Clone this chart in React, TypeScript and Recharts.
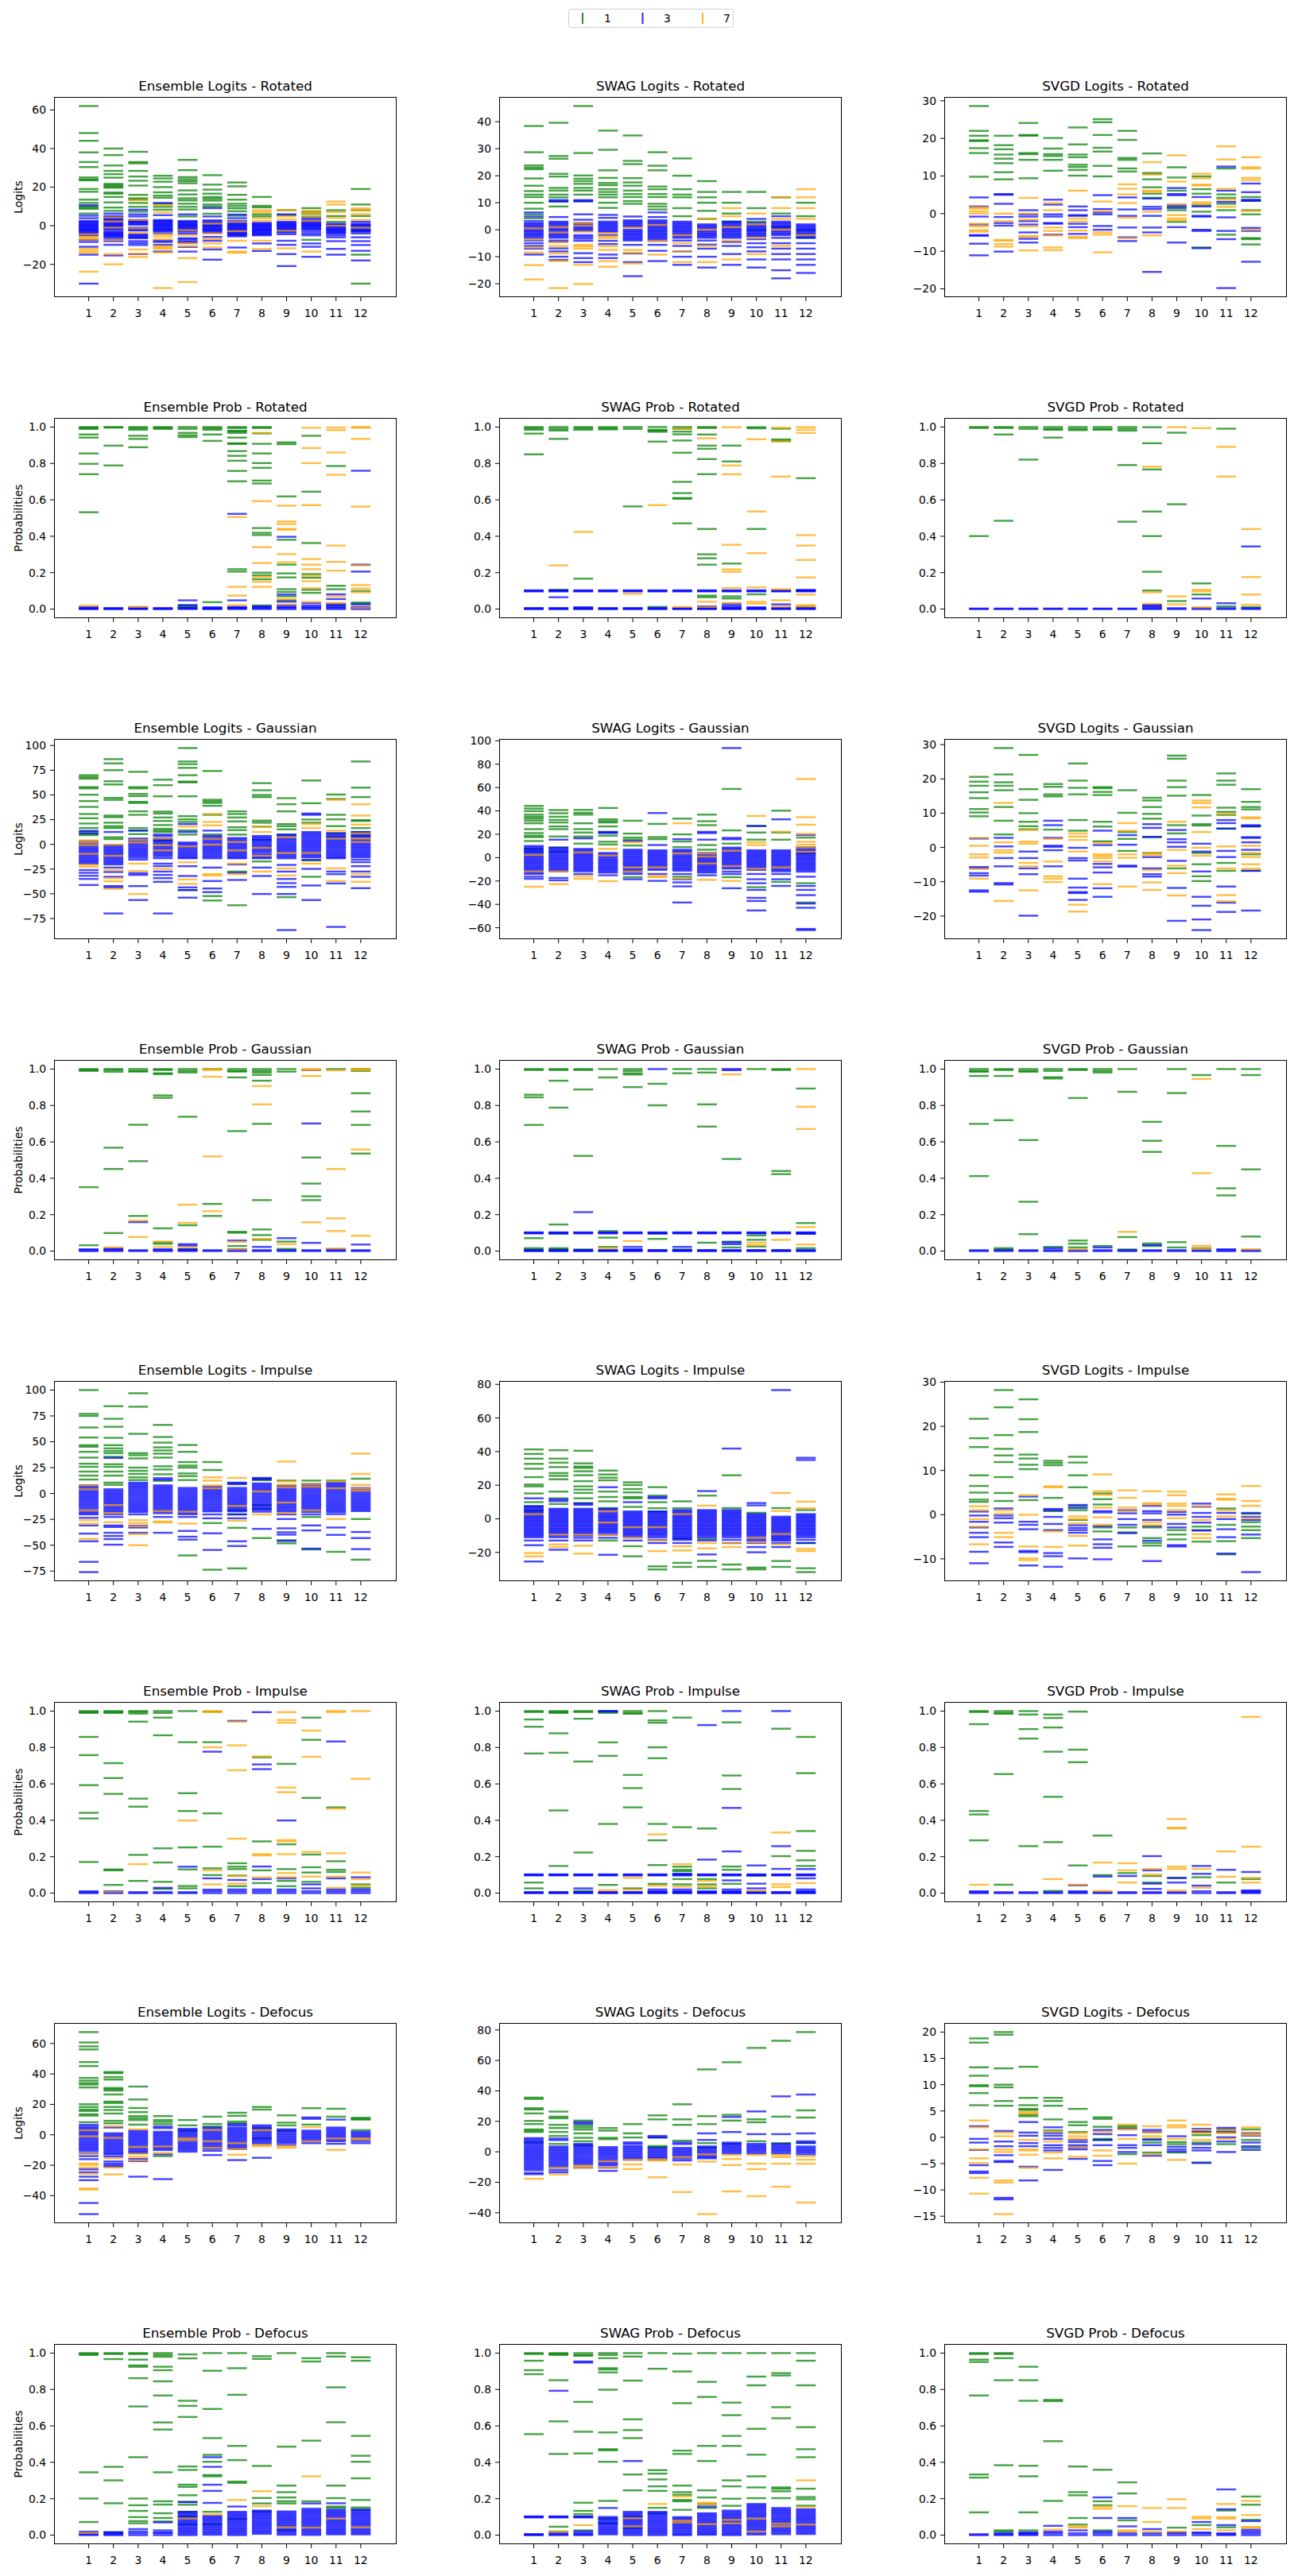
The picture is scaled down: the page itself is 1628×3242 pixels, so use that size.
import React from "react";
import { ScatterChart, Scatter, XAxis, YAxis } from "recharts";

const FONT = "'DejaVu Sans', sans-serif";
const GREEN = "#008000";
const BLUE = "#0000ff";
const ORANGE = "#ffa500";

const categories = [1, 2, 3, 4, 5, 6, 7, 8, 9, 10, 11, 12];
const legendLabels = ["1", "3", "7"];
const probTicks = [0, 0.2, 0.4, 0.6, 0.8, 1];

// each string holds the values plotted at one category (space separated)

// ---- Rotated ----
const ensLogitsRotG = ["62 48 44 38 33 30.4 25 24 23.5 19 17.6 13.5 11.8 10 9.3 8.7 6.3", "40 36.6 31.2 28.4 26.7 24.9 21.7 21 20.3 19.7 17.2 16.6 14.9 12.1 9.4 7.7", "38.3 33 32.3 28.4 25.5 23.3 20.8 16 14.2 13.5 11.8 9.8 7.3", "25.9 24.5 22.8 20 17.3 15.6 14.5 11.4 9.8 8.3", "34.1 28.8 25.2 24.1 23.1 22 18.3 16.2 14.2 13.1 11.4 9.8 8.4 4.8", "26.2 21.3 18.7 16.6 14.9 14 13 11 10 6.2", "22.4 20.4 16 13.5 11.4 10.2 9 7.5 5.2", "14.9 10.3 9.5 5.9 4.8", "8.1 5.5", "9.1 7.3 6.2 4.8 -7.3", "8 5 2", "19 11 8 5 -3 -15 -30"];
const ensLogitsRotB = ["10.6 5.2 3.9 2.5 2 1.5 1 0.5 0 -0.5 -1 -1.5 -2 -2.5 -3 -3.5 -4 -4.5 -5 -7.3 -8.4 -10.9 -15 -30", "6.3 5 4.5 4 3.5 3 2.5 2 1.5 1 0.5 0 -0.5 -1 -1.5 -2 -3 -3.5 -4 -4.5 -5 -5.5 -6 -7 -8 -9.9 -15.4", "8.3 5.9 4.8 3 2.5 2 1.5 1 0.5 -1 -1.5 -2 -2.5 -4.4 -5 -5.5 -6 -6.5 -8 -9 -10 -14.7", "11.8 5.5 3 2.5 2 1.5 1 0.5 0 -0.5 -1 -1.5 -2 -2.5 -3 -4 -7.8 -8.4 -9.9 -13.4", "5.9 2.5 2 1.5 1 0.5 0 -0.5 -1 -1.5 -2 -2.5 -3 -4 -6.5 -7 -8 -8.5 -9 -11 -13.4", "9.1 4.8 2.8 2.2 1.5 1 0.5 0 -0.5 -1 -1.5 -2 -2.5 -3 -3.7 -5.8 -7.8 -12.3 -17.6", "5.8 3.9 2.5 2 1.5 1 0.5 0 -0.5 -1 -1.5 -2 -2.5 -3 -3.5 -4 -4.5 -5 -5.5 -11.3", "1.5 1 0.5 0 -0.5 -1 -1.5 -2 -2.5 -3 -3.5 -4 -4.5 -5 -9.2 -13.1", "5.9 2 1.5 1 0.5 0 -0.5 -1 -1.5 -2 -2.5 -3 -3.5 -4.4 -7.8 -9.9 -14.7 -20.9", "3.9 3 2.5 2 1.5 1 0.5 0 -0.5 -1 -1.5 -2 -3 -4 -5 -9.2 -10.9 -16.1", "1 0.5 0 -0.5 -1 -1.5 -2 -2.5 -3 -3.5 -4 -5 -6 -8 -12 -15", "2 1 0.5 0 -0.5 -1 -1.5 -2 -2.5 -3 -4 -6 -8 -10 -13 -18"];
const ensLogitsRotO = ["-4.4 -5.8 -6.5 -7.1 -12 -13 -14 -23.8", "4.3 2.2 -1 -7.4 -14.7 -20", "13.2 3 -1.4 -3.7 -12.3 -14.5 -16.2", "10.7 6.9 -4.4 -5.5 -7 -10.6 -11.3 -12 -13.9 -32.3", "-2.3 -5 -9 -10.6 -16.8 -29.2", "1.1 -4 -6.9 -9.2 -11.3", "2 -2.8 -7.8 -13.4 -14", "8 7 3.9 2.5 -7.8 -12.1", "8.1 4.8 3.2 -2.6 -11.7", "7.7 6.5 4.8 2.5 -13.4", "12.5 11 7 4 0", "9 8 6 3 -1"];

const swagLogitsRotG = ["38.4 28.7 23.8 23 22.4 19 16.3 14.3 13 12.1 10 7.8 5.7 4.2", "39.6 27.3 26.3 20.7 19.7 15.5 14.5 13 12 10.4 8.6", "45.8 28.4 20.1 18.9 18 17 15.5 14.5 13 10.6", "36.7 29.6 22 19.2 17.3 16.5 15 14 13 12 10 8.1", "34.9 25.5 24.3 19.1 17.5 16.3 14.5 13.2 12.1 10.6 9.6", "28.7 23.7 22 16 15 13.2 12.1 9.6 8.6 7.5", "26.4 20 15 13 12 8 5", "18 14 12 10 7 4", "14 10 6 3", "14 8 3 0", "12 6 1", "10 5 0 -3"];
const swagLogitsRotB = ["6.4 4.9 3.2 2.5 2 1.5 1 0.5 0 -0.5 -1 -1.5 -2 -2.5 -3.1 -4 -5 -6 -7 -9.2", "11 10.5 4.7 3 2.5 2 1.5 1 0.5 0 -0.5 -1 -1.5 -2 -2.5 -3 -4 -4.5 -6.9 -8 -10 -11.2", "11 10.5 5.7 3.7 2.5 2 1.5 1 0.5 0 -0.5 -2 -2.6 -3.3 -4.1 -8.7 -10.5 -12", "5.5 4.4 3 2.5 2 1.5 1 0.5 0 -0.5 -1 -2 -4.1 -5.3 -9.2 -10.5", "4.9 3.5 3 2.5 2 1.5 1 0 -0.5 -1 -1.5 -2 -2.5 -3 -3.5 -4 -5.6 -8.8 -12 -17.2", "6.4 4.7 3.5 3 2.5 2 1.5 1 0.5 0 -0.5 -1 -1.5 -2 -2.5 -3 -3.5 -4.1 -5.6 -7.8 -11.6", "3 2.5 2 1.5 1 0.5 0 -0.5 -1 -1.5 -2 -2.5 -3 -4 -6 -8 -10 -13", "2 1.5 1 0.5 0 -0.5 -1 -1.5 -2 -2.5 -3 -4 -5.5 -7 -10 -14", "3 2.5 2 1.5 1 0.5 0 -0.5 -1 -1.5 -2 -2.5 -3 -4.5 -6 -9 -13", "4 2.5 2 1.5 1 0.5 0 -0.5 -1 -1.5 -2 -2.5 -3.5 -5 -6.5 -8 -11 -14", "5 3 2.5 2 1.5 1 0.5 0 -0.5 -1 -1.5 -2 -3 -5 -7 -9 -11 -15 -18", "2 1.5 1 0.5 0 -0.5 -1 -1.5 -2 -2.5 -3 -5 -7 -9 -11 -13 -16"];
const swagLogitsRotO = ["0.5 -3.6 -6.6 -8.4 -13.1 -18.4", "1 -1 -4.6 -6 -8.8 -11.6 -21.6", "2.5 1.5 -0.7 -5.6 -6.2 -7 -13 -20.1", "-1.2 -2.5 -3.1 -6.1 -7.5 -11.6 -13.7", "0.8 -7.5 -8.6 -12.5", "1.8 -4.1 -9.2", "-2 -5 -8 -12", "4 0 -6 -12", "8 5 1 -4 -11", "6 2 -3 -9", "12 8 4 0 -6", "15 12 8 4 -2"];

const svgdLogitsRotG = ["28.6 22 20.7 19.5 19.3 17.4 16.1 9.8", "20.7 18.2 17.1 15.7 14.6 13.4 11 9.1", "24.1 20.9 20.7 16.1 15.8 14.3 9.4", "20.1 17.3 15.8 15.3 14.3 11.4", "22.9 18.4 15.7 15 13 12.4 11.6 10.1", "25.1 24.3 20.9 17.5 16.5 12.7 9.9", "22 19.6 14.8 14.3 12 11.2", "16 10.8 10.5 9.1 7 5.3 4.2", "12.3 9.6 6.1 1.8 0.9 -2.2", "9.9 6.5 5.3 2.2 0.5 -9", "12 5.1 4.2 2.6 0.9 -5.6", "4.4 3.4 0.9 -0.2 -6.5 -6.8 -8.2"];
const svgdLogitsRotB = ["4.3 1.9 -0.8 -2.9 -5.7 -5.9 -8 -11.1", "5.2 5 2.6 -0.9 -2.5 -3.2 -10.1", "0.9 -0.2 -0.8 -2 -2.9 -5 -6.7 -7.7", "3.7 2.4 -0.2 -0.8 -2.5 -2.7 -5.6", "1.9 0.9 -0.4 -0.6 -2.7 -3.6 -5.4", "4.9 1.2 0.3 -0.2 -3.3 -4.3", "4.3 1.1 -0.6 -3.7 -6.3 -7.3", "4 1.8 1.2 -0.6 -3.7 -5 -15.5", "6.8 5.2 4.9 2.2 1.5 -3.6 -7.7", "4.4 1.9 -0.6 -0.8 -4.3 -4.6 -9.2", "12.5 6.1 3.1 -1 -4.6 -6.8 -19.8", "8 5.7 3.7 3.4 -3.8 -4.6 -12.8"];
const svgdLogitsRotO = ["1.7 1.3 0.6 0 -2.7 -3.4 -4.4 -4.8", "0 -2 -7 -7.2 -8.1 -8.8", "4.2 0 -1.6 -3.4 -6 -6.1 -9.8", "2.8 0.9 -3.7 -4.6 -5.8 -9 -9.7", "6.1 -1.3 -2.1 -4.5 -6.2 -6.5", "3.2 0.6 -5 -5.6 -10.3", "7.8 6.6 5.1 2.8 -1.1 -6.5", "13.7 10.5 6.1 5.8 0.5 -5.8", "15.5 8.5 2.5 -0.4 -1.3 -1.8", "10.6 9.4 7.7 7.5 3 2.6", "17.9 14.4 6.6 3.7 1.8", "15 12.3 12 9.5 8.9 0.7 -4.3"];

const ensProbRotG = ["1 0.995 0.99 0.959 0.942 0.855 0.798 0.741 0.532", "1 0.997 0.898 0.789", "1 0.993 0.985 0.952 0.935 0.889", "1 0.995 0.99", "1 0.99 0.968 0.955 0.945 0.02 0.012", "1 0.993 0.985 0.959 0.924 0.038", "1 0.995 0.98 0.976 0.968 0.942 0.911 0.907 0.868 0.842 0.815 0.759 0.702 0.219 0.206", "1 0.995 0.965 0.908 0.855 0.802 0.776 0.706 0.69 0.445 0.419 0.407 0.2 0.186 0.164 0.02", "0.916 0.906 0.619 0.381 0.244 0.196 0.174 0.109 0.094 0.07 0.048", "0.952 0.645 0.363 0.192 0.172 0.106 0.089", "0.786 0.128 0.109 0.022", "0.099 0.036 0.03"];
const ensProbRotB = ["0.01 0.006 0.002 0", "0.006 0.002 0", "0.01 0.006 0.002 0", "0.006 0.002 0", "0.048 0.022 0.008 0.004 0", "0.01 0.006 0.002 0", "0.523 0.048 0.012 0.008 0.004 0", "0.015 0.01 0.005 0", "0.397 0.08 0.041 0.02 0.012 0.006 0", "0.033 0.02 0.012 0.006 0", "0.081 0.055 0.03 0.02 0.012 0.006 0", "0.76 0.244 0.206 0.026 0.012 0.006 0"];
const ensProbRotO = ["0.019", "", "0.012", "", "", "", "0.506 0.122 0.074 0.022", "0.968 0.593 0.34 0.253 0.177 0.15 0.122", "0.568 0.481 0.467 0.44 0.436 0.302 0.257 0.055 0.026", "0.996 0.885 0.802 0.571 0.275 0.244 0.219 0.183 0.153 0.115 0.039", "0.997 0.983 0.86 0.738 0.349 0.259 0.211 0.07 0.033", "1 0.996 0.935 0.563 0.24 0.132 0.113 0.092 0.007"];

const swagProbRotG = ["1 0.993 0.985 0.964 0.85", "1 0.99 0.981 0.935 0.106", "1 0.993 0.985 0.167", "1 0.993 0.987", "1 0.99 0.564", "1 0.985 0.98 0.974 0.92 0.012", "1 0.99 0.975 0.96 0.926 0.859 0.699 0.637 0.61 0.606 0.471", "1 0.995 0.959 0.898 0.881 0.824 0.741 0.44 0.301 0.279 0.244 0.074 0.065", "0.898 0.811 0.25 0.07 0.058", "0.999 0.993 0.44 0.081", "0.991 0.932 0.924", "0.719 0.012"];
const swagProbRotB = ["0.103 0.1 0.097 0.006 0.002 0", "0.103 0.1 0.097 0.065 0.006 0.002 0", "0.103 0.1 0.097 0.01 0.006 0.002 0", "0.103 0.1 0.097 0.006 0.002 0", "0.103 0.1 0.097 0.006 0.002 0", "0.103 0.1 0.097 0.006 0.002 0", "0.103 0.1 0.097 0.006 0.002 0", "0.103 0.1 0.097 0.015 0.01 0.006 0.002 0", "0.103 0.1 0.097 0.03 0.02 0.01 0.006 0.002 0", "0.103 0.1 0.097 0.01 0.006 0.002 0", "0.103 0.1 0.097 0.026 0.006 0.002 0", "0.105 0.103 0.1 0.097 0.006 0.002 0"];
const swagProbRotO = ["", "0.24", "0.424", "", "0.084", "0.571", "0.99 0.012", "0.938 0.04 0.012", "0.999 0.789 0.741 0.353 0.218 0.205 0.116 0.033", "0.933 0.536 0.307 0.119 0.04 0.029", "0.996 0.92 0.728 0.109 0.048 0.015", "0.999 0.985 0.968 0.406 0.349 0.27 0.174 0.08 0.022 0.015"];

const svgdProbRotG = ["1 0.995 0.401", "1 0.995 0.959 0.485", "1 0.99 0.821", "1 0.99 0.985 0.942", "1 0.99 0.983", "1 0.99 0.985", "1 0.99 0.98 0.791 0.48", "0.999 0.911 0.767 0.536 0.401 0.205 0.102", "0.969 0.576 0.044", "0.141 0.08", "0.991 0.015", "0.01"];
const svgdProbRotB = ["0.003 0", "0.003 0", "0.003 0", "0.003 0", "0.003 0", "0.003 0", "0.003 0", "0.023 0.019 0.012 0.004 0", "0.005 0", "0.058 0.005 0", "0.032 0.005 0", "0.344 0.005 0"];
const svgdProbRotO = ["", "", "", "", "", "", "", "0.782 0.092 0.029", "0.999 0.07 0.026", "0.994 0.106 0.097 0.01", "0.891 0.728", "0.44 0.176 0.08 0.023"];

// ---- Gaussian ----
const ensLogitsGauG = ["69.9 68 66.4 57.9 56.6 50.2 43.8 37.9 30.7 26.4 21.1 16.5 13 10.7 9.3", "86.2 81.9 75 63.8 60.6 47 45 29.1 27.5 21.9 18.4 16.5 7.2 5.3", "73.4 57.9 56.6 51 48.8 43 41.9 33.4 29.9 16.5 14 10.4", "65.4 59.8 48.6 33.1 31.2 27.2 23.7 19.5 15.7 14 12.5 4", "97.4 83.8 81.1 77.4 69.9 63.5 62.7 48.6 28.5 25.3 22.7 14.1 9.9 -46.2", "74.2 45.1 43.5 41.9 39 29.9 10.1 -52.3 -56.8", "33.4 30.7 27.2 23.2 17.3 14.4 9.9 -27.5 -61.6", "61.9 54.7 49.9 47.8 24 21.9 17.9 4.5 -17.3", "46.7 40.6 33.4 20.5 18.4 15.2 9.9 -53.4", "64.6 41.6 25.1 21.9 -16.3 -32.8", "50.4 45.9 29.9 25.3 18.4 11.2 7.2", "83.8 57.4 47.8 24.5 23.7 16.5 12.5 8.5"];
const ensLogitsGauB = ["13.6 11.2 3.2 1.5 0 -1.5 -3 -4.5 -6 -7.5 -9 -10.5 -12 -13.5 -15 -16.5 -18 -19.5 -26 -28.8 -31.8 -35 -41.1", "12.5 -0.8 -2.3 -3.8 -5.3 -6.8 -8.3 -9.8 -11.3 -12.8 -14.3 -15.8 -17.3 -18.8 -20.3 -23.5 -28 -32.8 -42.2 -43.5 -69.9", "13.9 5.9 4.4 3 1.5 0 -1.5 -3 -4.5 -6 -7.5 -9 -10.5 -12 -13.5 -15.5 -29.1 -30.9 -42.2 -56.3", "9.9 8.4 6 4.5 3 1.5 0 -1.5 -3 -4.5 -6 -7.5 -9 -10.5 -12 -14 -19.5 -22 -27.5 -30.9 -34.2 -37.9 -69.9", "20.5 12.5 1.9 0.5 -1 -2.5 -4 -5.5 -7 -8.5 -10 -11.5 -13 -14.1 -22.1 -32 -43.5 -46.2 -53.9", "13.9 8.5 7 5.5 4 2.5 1 -0.5 -2 -3.5 -5 -6.5 -8 -9.5 -11 -12.5 -14.1 -23.5 -37.1 -44.6 -48.3", "6.4 5 3.5 2 0.5 -1 -2.5 -4 -5.5 -7 -8.5 -10 -11.5 -13 -14.1 -20.3 -28.8 -36", "8.5 7 5.5 4 2.5 1 -0.5 -2 -3.5 -5 -6.5 -8 -9.9 -11.5 -13 -14.1 -23.5 -32 -50.2", "9.9 8.5 7 5.5 4 2.5 1 -0.5 -2 -3.5 -5 -6.5 -8 -9.5 -11 -12.5 -14.1 -20.8 -27.5 -35 -39.2 -43 -50.2 -86.7", "31.2 29.9 12.5 11 9.5 8 6.5 5 3.5 2 0.5 -1 -2.5 -4 -5.5 -7 -8.5 -10 -11.5 -13 -15.5 -24.8 -41.6 -56.3", "11.2 9.5 8 6.5 5 3.5 2 0.5 -1 -2.5 -4 -5.5 -7 -8.5 -10 -11.5 -13 -14.1 -27.5 -30.1 -39.5 -83.5", "12.5 11 9.5 8 6.5 5 3.5 2 0.5 -1 -2.5 -4 -5.5 -7 -8.5 -10 -11.5 -13 -15.5 -18 -22.1 -27.5 -32.8 -44.3"];
const ensLogitsGauO = ["4 1.9 -0.8 -9.6 -20.8 -22.7", "-0.3 -11.5 -26.1 -34.2 -37.4 -45", "4.5 1.9 -19.5 -26.9 -50.2", "5.9 -0.8 -6.1 -24.8", "17.9 -2.1 -18.1 -35.5 -40", "30.7 22.7 19.2 5.6 -0.3 -30.1 -31.5", "2.4 -6.1 -19.5 -30.1", "17.9 12.5 -3.5 -11.5 -27.5", "7.2 -8.8 -24.3 -31.5", "20.5 16.5 -8.8 -19.5", "45.1 13.9 5.9 -24.3 -37.1", "40.6 29.1 20 11.2 5.9 2.4 -30.1 -37.9"];

const swagLogitsGauG = ["44.3 42 39.8 36.8 35 33.4 31.6 29.4 24.4 21 18.8 17.6 14.2 7.5 5.2", "40.7 38 35 32.3 30.1 26.7 24.4 18.1 8.6 5.2", "40.9 38.4 36.8 29.4 24.4 21.5 18.1 12", "42.5 32.8 31.2 30.1 26.7 21.7 18.8 13.6 11.3", "31.6 20.6 17.2 15.4 10.4 -16.7", "28.9 17.6 15.8", "33.4 19.9 13.8 9 -16.3", "36.8 31.2 27.8 10.8 6.8", "58.8 23.3 12 -16.7", "27.1 21.5 15.4 -25.3", "40.2 21.5 15.4 -20.8", "17.2 8.6 3.6 -21.9 -38.4"];
const swagLogitsGauB = ["10 8.8 7.6 6.4 5.2 4 2.8 1.6 0.4 -0.8 -2 -3.2 -4.4 -5.6 -6.8 -8 -9.2 -10.4 -11.6 -12.8 -14 -16.3 -18.1", "15.4 8.6 7.4 6.2 5 3.8 2.6 1.4 0.2 -1 -2.2 -3.4 -4.6 -5.8 -7 -8.2 -9.4 -10.6 -11.8 -17.4 -19.4", "16.5 7.5 6.3 5.1 3.9 2.7 1.5 0.3 -0.9 -2.1 -3.3 -4.5 -5.7 -6.9 -8.1 -9.3 -10.5 -11.7 -14", "22.1 21 4 2.8 1.6 0.4 -0.8 -2 -3.2 -4.4 -5.6 -6.8 -8 -9.2 -10.4 -11.6 -12.8 -15.1", "14.2 6.8 5.6 4.4 3.2 2 0.8 -0.4 -1.6 -2.8 -4 -5.2 -6.4 -7.6 -8.8 -10 -11.2 -12.4 -14 -18.5", "38.2 10.8 6.3 5.1 3.9 2.7 1.5 0.3 -0.9 -2.1 -3.3 -4.5 -5.7 -6.9 -8.1 -9.3 -10.5 -14 -19.9", "15.8 6.8 5.6 4.4 3.2 2 0.8 -0.4 -1.6 -2.8 -4 -5.2 -6.4 -7.6 -8.8 -10 -11.2 -14 -18.5 -21.2 -24.6 -38.4", "22.1 21 15.4 4 2.8 1.6 0.4 -0.8 -2 -3.2 -4.4 -5.6 -6.8 -8 -9.2 -10.4 -11.6 -12.8 -15.1", "93.8 16.9 15.7 8.6 7.4 6.2 5 3.8 2.6 1.4 0.2 -1 -2.2 -3.4 -4.6 -5.8 -7 -8.2 -9.4 -12 -14 -26.2", "27.1 6.3 5.1 3.9 2.7 1.5 0.3 -0.9 -2.1 -3.3 -4.5 -5.7 -6.9 -8.1 -9.3 -10.5 -14 -18.5 -21.9 -27.6 -34.4 -37.1 -45.2", "32.8 6.3 5.1 3.9 2.7 1.5 0.3 -0.9 -2.1 -3.3 -4.5 -5.7 -6.9 -8.1 -9.3 -10.5 -11.7 -14 -18.5 -24.2", "19.4 8.6 7.4 6.2 5 3.8 2.6 1.4 0.2 -1 -2.2 -3.4 -4.6 -5.8 -7 -8.2 -9.4 -10.6 -12 -16.3 -24.2 -27.6 -32.1 -39.3 -42.9 -61 -62"];
const swagLogitsGauO = ["2.3 -11.8 -24.9", "-11.8 -22.6", "4.5 -15.8 -18.1", "7.5 1.8 -20.1", "13.1 -8.4 -11.8", "-8.4 -15.8 -16.7", "29.4 3.6 -17.9", "3.6 1 -5 -19", "5.9 -7.2 -19.9", "35.7 13.1 10.8 -9.5", "22.1 -8.4", "67.3 34.6 28.2 20.3 13.6 11 8.6 5"];

const svgdLogitsGauG = ["20.6 19.2 18 16.1 14.4 11.2 10.2 9.1", "29 21.3 19 18 16.7 11.8 7.8 3.8", "27 17 13.9 10 7.5 6.2 5.3", "18.5 17.7 15.5 14.9 5.2", "24.5 19.5 17.4 15.5 8 4.9", "17.6 17.3 16.2 15.3 7.5 6.1 1.8", "16.7 10.1 4.5 2.5 -1", "14.5 13.7 11.8 9.8 8.4 3 -1.6", "26.8 25.9 19.5 17.6 15.1 6.5 4.1 -6.1", "15.3 9.3 6.8 6.4 -1.6 -4.9 -8.4 -9.8", "21.6 19.5 18.3 11.6 10.4 9.5 5.5 -4.5 -6.8", "17 13.3 11.8 11.1 6.1 -2 -6.8"];
const svgdLogitsGauB = ["2.6 -5.7 -6.1 -7.5 -8.2 -12.5 -12.9", "2.8 0.3 -3.1 -5.5 -10.4 -10.8", "-1.2 -3.1 -6.1 -7.8 -19.9", "7.8 6.5 2.8 0.5 0.2 -0.8 -5.5", "-0.1 -3.1 -3.8 -9.1 -11.7 -13 -13.3 -15.3", "4.9 0.7 -4.8 -5.8 -7.3 -11.9 -14.4", "3.6 0.8 -5.3 -5.6", "6.8 5.7 3.1 -2.8 -6.1 -7.8 -8.5", "5.1 2.4 1.5 0.2 -3.9 -11.8 -21.4", "1.1 -1.2 -7 -14.4 -17 -21 -24.1", "8 7.1 5.5 -1 -2.8 -11.4 -16.1 -18.8", "6.5 6.2 3 2.8 1.5 -0.7 -6.8 -18.4"];
const svgdLogitsGauO = ["2.8 0.5 -2 -2.9 -6.2 -9.1", "13 1.5 -0.8 -1.5 -15.6", "5.1 1.7 1.1 -4.5 -5.5 -12.5", "2.5 -4.1 -8.4 -9.1 -10.1", "4.1 3.2 2.2 -1.2 -16.7 -18.7", "1.3 -2 -2.5 -3.1 -4.1 -10.7", "7.1 4.9 -2 -3 -11.4", "-1.6 -2.2 -6.6 -10.2 -12.4", "7.5 -0.7 -5.3 -7.5 -14", "13.7 13 11.7 4.5 -0.1 -2.4", "9.8 0.3 -6.1 -13.9 -15.7", "8.8 8.5 0.5 -1.6 -2.8 -4.9 -6.2"];

const ensProbGauG = ["1 0.995 0.99 0.351 0.032", "1 0.995 0.985 0.568 0.451 0.099", "1 0.99 0.986 0.694 0.494 0.193", "1 0.995 0.977 0.972 0.855 0.842 0.125 0.048 0.04", "1 0.99 0.981 0.738 0.142 0.01", "1 0.259 0.193", "1 0.99 0.986 0.954 0.659 0.106 0.101 0.028", "1 0.99 0.981 0.968 0.936 0.699 0.28 0.119 0.088 0.062", "1 0.986 0.052 0.012", "0.514 0.371 0.301 0.28", "1", "1 0.99 0.867 0.767 0.693 0.536"];
const ensProbGauB = ["0.01 0.005 0", "0.015 0.01 0.005 0", "0.159 0.005 0", "0.01 0.005 0", "0.038 0.03 0.01 0.005 0", "0.005 0", "0.058 0.01 0.005 0", "0.023 0.005 0", "0.071 0.005 0", "0.994 0.701 0.045 0.005 0", "0.01 0.005 0", "0.036 0.005 0"];
const ensProbGauO = ["", "0.02", "0.168 0.077", "0.052 0.023", "0.255 0.155 0.02", "1 0.995 0.958 0.52 0.219", "0.051 0.009", "0.907 0.806 0.067", "0.038", "1 0.995 0.962 0.158", "0.993 0.451 0.18 0.11 0.014", "1 0.995 0.558 0.084"];

const swagProbGauG = ["1 0.995 0.859 0.845 0.693 0.071 0.016 0.009", "1 0.995 0.936 0.788 0.146 0.096 0.016 0.01", "1 0.995 0.888 0.523 0.009", "1 0.954 0.11 0.074 0.023", "1 0.99 0.977 0.97 0.901", "0.919 0.801 0.096 0.067", "1 0.977 0.009", "1 0.981 0.806 0.684 0.046", "0.506 0.052 0.02", "1 0.086 0.062 0.025", "1 0.995 0.44 0.423", "0.893 0.154 0.016"];
const swagProbGauB = ["0.103 0.1 0.097 0.006 0.002 0", "0.103 0.1 0.097 0.006 0.002 0", "0.214 0.103 0.1 0.097 0.006 0.002 0", "0.103 0.1 0.097 0.006 0.002 0", "0.103 0.1 0.097 0.023 0.01 0.006 0.002 0", "1 0.103 0.1 0.097 0.006 0.002 0", "0.103 0.1 0.097 0.023 0.006 0.002 0", "0.103 0.1 0.097 0.006 0.002 0", "1 0.994 0.103 0.1 0.097 0.048 0.038 0.006 0.002 0", "0.103 0.1 0.097 0.006 0.002 0", "0.103 0.1 0.097 0.006 0.002 0", "0.103 0.1 0.097 0.095 0.006 0.002 0"];
const swagProbGauO = ["", "", "", "0.016", "0.055", "", "", "", "0.971", "0.046 0.032", "0.062", "1 0.793 0.671 0.132 0.036"];

const svgdProbGauG = ["1 0.99 0.985 0.962 0.699 0.412", "1 0.995 0.962 0.719 0.016 0.009", "1 0.99 0.985 0.61 0.271 0.093", "1 0.99 0.955 0.948 0.023", "1 0.995 0.841 0.058 0.041 0.02", "1 0.99 0.981 0.028", "1 0.875 0.077 0.009", "0.71 0.606 0.545 0.042 0.028", "1 0.868 0.049 0.02", "0.967 0.016", "1 0.578 0.345 0.306", "1 0.967 0.449 0.08"];
const svgdProbGauB = ["0.005 0", "0.005 0", "0.005 0", "0.016 0.005 0", "0.005 0", "0.02 0.005 0", "0.005 0", "0.033 0.005 0", "0.005 0", "0.005 0", "0.01 0.005 0", "0.005 0"];
const svgdProbGauO = ["", "", "", "", "0.009", "", "0.106", "", "", "0.946 0.428 0.029 0.013", "", "0.01"];

// ---- Impulse ----
const ensLogitsImpG = ["100 77 75 63.8 54.1 46.7 45.2 40.3 34.7 28.8 25.8 21.2 17.3 13.5", "84.4 72.2 64.5 53.8 46.7 43.6 41.1 39 35.5 28.3 25.8 21.2 17.3 10.5 8.4", "96.9 83.9 57.7 39 37 33.9 25 21.9 18.9 15.6 13", "66.3 54.6 49.2 44.6 41.6 38.5 34.7 26.3 23.2 18.6 12.2", "46.9 40.3 30.4 27 25 19.4 16.8 13 -59.9", "30.4 22.7 -28.6 -73.7", "9.9 -16.3 -20.2 -33.2 -72.4", "14.3 13 -11.2 -15.1 -43.1", "12.5 -45.2 -48.2", "12.5 -22.7 -54.1", "12.5 -56.4", "14.3 -24.7 -64"];
const ensLogitsImpB = ["8 6.5 5 3.5 2 0.5 -1 -2.5 -4 -5.5 -7 -8.5 -10 -11.5 -13 -14.5 -16 -17.5 -19 -20.2 -23.5 -30.9 -38.8 -46.2 -66.1 -76", "34.4 4.1 2.6 1.1 -0.4 -1.9 -3.4 -4.9 -6.4 -7.9 -9.4 -10.9 -12.4 -13.9 -15.4 -16.9 -18.4 -20.2 -22.7 -30.9 -32.4 -38 -41.1 -44.1 -49.5", "10.5 9 7.5 6 4.5 3 1.5 0 -1.5 -3 -4.5 -6 -7.5 -9 -10.5 -12 -13.5 -15 -16.5 -18 -20.2 -31.1 -32.9 -38", "14.8 13.3 7.9 6.4 4.9 3.4 1.9 0.4 -1.1 -2.6 -4.1 -5.6 -7.1 -8.6 -10.1 -11.6 -13.1 -14.6 -16.1 -17.6 -19.1 -22.7 -38", "5.4 3.9 2.4 0.9 -0.6 -2.1 -3.6 -5.1 -6.6 -8.1 -9.6 -11.1 -12.6 -14.1 -15.6 -17.1 -18.6 -20.1 -22.7 -36.2 -41.8 -44.6", "6.6 5.1 3.6 2.1 0.6 -0.9 -2.4 -3.9 -5.4 -6.9 -8.4 -9.9 -11.4 -12.9 -14.4 -15.9 -17.3 -20.2 -24 -38.5 -54.6", "10.5 9 5.4 3.9 2.4 0.9 -0.6 -2.1 -3.6 -5.1 -6.6 -8.1 -9.6 -11.1 -12.6 -14.1 -15.6 -17.3 -20.2 -24 -46.2 -50.8", "15.1 13.6 9.7 8.2 6.7 5.2 3.7 2.2 0.7 -0.8 -2.3 -3.8 -5.3 -6.8 -8.3 -9.8 -11.3 -12.8 -14.3 -15.8 -17.6 -34.2", "7.9 6.4 4.9 3.4 1.9 0.4 -1.1 -2.6 -4.1 -5.6 -7.1 -8.6 -10.1 -11.6 -13.1 -14.6 -16.1 -17.6 -20.2 -24.7 -33.7 -37.5 -39.8 -45.9", "9.2 7.7 6.2 4.7 3.2 1.7 0.2 -1.3 -2.8 -4.3 -5.8 -7.3 -8.8 -10.3 -11.8 -13.3 -14.8 -16.3 -17.8 -20.2 -30.9 -35.7 -53.3", "10.5 9 7.5 6 4.5 3 1.5 0 -1.5 -3 -4.5 -6 -7.5 -9 -10.5 -12 -13.5 -15 -16.5 -18 -20 -32.9 -40", "5.4 3.9 2.4 0.9 -0.6 -2.1 -3.6 -5.1 -6.6 -8.1 -9.6 -11.1 -12.6 -14.1 -15.6 -17 -37.2 -43.1 -53.8"];
const ensLogitsImpO = ["7.9 4.1 -16.3 -25.8 -29.1 -43.9", "-11.2 -18.9 -27.8", "-25.8 -28.6 -31.6 -39.3 -50", "-17.1 -27 -28", "-17.6 -29.1", "15.6 12.5 7.9 5", "15.1 -12 -26.3", "2 -20.2", "30.9 11.7 8.4 5.9 -8.7 -18.9", "9.2 6.6 -16.3", "11.7 5 -24.7", "38.5 18.9 8.4 5 2.8"];

const swagLogitsImpG = ["41.3 38.6 35.8 32.7 29.8 24.8 20.4 19.3 15.1 9.9 7.5 4.7", "40.8 35.8 33.4 30.8 27.2 25.6 23.5 16.2 12.2 8.8", "40.5 33 31.1 30.3 28.3 25.9 22.4 19.3 17.4 15.4 12.2 9.4", "28.7 26.4 24.5 22.9 16.2 13 10.4 6.4 -12.9", "21.7 20.1 17.7 15.7 13 12.2 7.1 -16.3 -22.3", "18.8 13.8 9.9 6.3 4.4 -28.3 -30.1", "10.4 6.3 -11.8 -26.2 -28.6", "13.8 -12 -25 -28.6", "25.9 6.4 -27.2 -30.1", "3.6 -29 -30.1", "6.4 -25.1 -28.6", "5.2 -14.4 -29.4 -31.7"];
const swagLogitsImpB = ["12.2 7.5 6.7 5.9 5.1 4.3 3.5 2.7 1.9 1.1 0.3 -0.5 -1.3 -2.1 -2.9 -3.7 -4.5 -5.3 -6.1 -6.9 -7.7 -8.5 -9.3 -10.1 -11 -12.9 -15.7 -25.4", "11.5 10.5 6 5.2 4.4 3.6 2.8 2 1.2 0.4 -0.4 -1.2 -2 -2.8 -3.6 -4.4 -5.2 -6 -6.8 -7.6 -8.4 -9.2 -10 -11 -12.9 -18.4", "9.1 8.3 6 5.2 4.4 3.6 2.8 2 1.2 0.4 -0.4 -1.2 -2 -2.8 -3.6 -4.4 -5.2 -6 -6.8 -7.6 -8.4 -9.2 -10 -11.3 -12.9", "18.8 6 5.2 4.4 3.6 2.8 2 1.2 0.4 -0.4 -1.2 -2 -2.8 -3.6 -4.4 -5.2 -6 -6.8 -7.6 -8.4 -9.5 -11.3 -21.4", "9.9 4.4 3.6 2.8 2 1.2 0.4 -0.4 -1.2 -2 -2.8 -3.6 -4.4 -5.2 -6 -6.8 -7.6 -8.4 -9.2 -10 -11 -12.9", "13 12.2 4.4 3.6 2.8 2 1.2 0.4 -0.4 -1.2 -2 -2.8 -3.6 -4.4 -5.2 -6 -6.8 -7.6 -8.4 -9.2 -10 -11 -12.5 -14.4", "5.2 4.4 3.6 2.8 2 1.2 0.4 -0.4 -1.2 -2 -2.8 -3.6 -4.4 -5.2 -6 -6.8 -7.6 -8.4 -9.2 -10 -10.8 -11.6 -12.5 -14.4", "16.5 5.2 4.4 3.6 2.8 2 1.2 0.4 -0.4 -1.2 -2 -2.8 -3.6 -4.4 -5.2 -6 -6.8 -7.6 -8.4 -9.2 -10 -11 -12.9 -21.2", "41.8 5.2 4.4 3.6 2.8 2 1.2 0.4 -0.4 -1.2 -2 -2.8 -3.6 -4.4 -5.2 -6 -6.8 -7.6 -8.4 -9.2 -10 -11 -12.5 -14.4", "9.4 8 2.8 2 1.2 0.4 -0.4 -1.2 -2 -2.8 -3.6 -4.4 -5.2 -6 -6.8 -7.6 -8.4 -9.2 -10 -11 -12 -13 -14.4 -16.8 -19.9", "76.6 1.3 0.5 -0.3 -1.1 -1.9 -2.7 -3.5 -4.3 -5.1 -5.9 -6.7 -7.5 -8.3 -9.1 -9.9 -10.7 -11.5 -12.3 -13 -14.4 -16.8", "36.3 35 2.8 2 1.2 0.4 -0.4 -1.2 -2 -2.8 -3.6 -4.4 -5.2 -6 -6.8 -7.6 -8.4 -9.2 -10 -11 -12.5 -14.4"];
const swagLogitsImpO = ["2.8 -20.4 -22.3", "-9.4 -15.2 -16.8", "-9.4 -16 -20.7", "4.4 -2.2 -9.7", "-5 -11.3", "-5 -12.9 -19.2", "2.8 -16.3 -18.8", "7.8 -14.4 -17.6", "-14.4 -16.8", "-11.3 -14", "15.4 4.7 -9 -15.2", "10.2 6.3 -17.9 -19.2"];

const svgdLogitsImpG = ["21.7 17.3 15.3 8.9 6.5 5 3.4 2.9", "28.2 24.3 18 14.9 13.4 11.9 8.5 4.9 3.1", "26.1 21.6 18.7 13.6 12.7 11.3 10.3 3.3", "12.2 11.7 11.2 3.8 0.8", "13.1 11.8 8.9 6.2 1.9 1 -1.2", "4.8 3.5 2.3 -2.9 -3.8", "-2.9 -4 -7.2", "-2.9 -5.3 -6.4 -7", "-3.5 -4.5 -5.6", "-2.7 -3.5 -6.1", "1.4 -2.3 -6 -9", "0.2 -1.7 -2.7 -3.5 -5.3"];
const svgdLogitsImpB = ["0.7 -0.2 -1.6 -2.9 -4.1 -5.1 -8.4 -11", "1.4 -0.2 -0.8 -1.8 -6.3 -7.3", "4.1 -1.6 -2.3 -3.3 -8.2 -8.5 -11.5", "1.3 1 -0.5 -2.1 -3.5 -8.7 -9.4 -11.8", "2.2 1.5 -2.4 -3 -3.5 -4.1 -9.9", "0.8 0.5 -2.6 -5.6 -6.7 -7.5 -10.1", "1 0.3 -1 -2.3 -4.2", "2 0.8 0.3 -1.2 -2.6 -5.9 -10.5", "0.6 0 -2.1 -2.9 -6.9 -7.2", "2.5 1.8 0.4 -0.5 -1.8 -3.6", "0.4 -1 -3.3 -5.1 -8.8", "0.4 -0.5 -1.2 -4.5 -13"];
const svgdLogitsImpO = ["1.9 1 -1 -2.7 -6.7", "1 0.2 -4.1 -5.1", "4.4 0 -7.2 -9.9 -10.3", "6.4 6.2 -3.8 -7.3", "-0.4 -1 -2 -4.8 -7", "9.1 5.3 4.5 1.6 -0.6 -2.3", "5.5 3.8 1.6 0.8", "5.3 2.6 2.3 -1.7 -2.4", "5.2 4.4 2.5 2 1 -0.8", "1.9 -1.2 -4.4 -5.3", "4.6 3.6 3.4 1 -0.4", "6.5 3.1 2 -0.8"];

const ensProbImpG = ["1 0.995 0.99 0.858 0.758 0.593 0.441 0.41 0.171", "1 0.995 0.99 0.714 0.632 0.545 0.13 0.125 0.045", "1 0.995 0.986 0.942 0.519 0.475 0.21 0.067", "1 0.99 0.964 0.867 0.246 0.168 0.062 0.023", "1 0.829 0.549 0.451 0.251 0.13 0.039 0.026", "0.997 0.829 0.438 0.255 0.136 0.099", "0.164 0.145 0.132 0.096 0.038", "0.746 0.284 0.125 0.055", "0.71 0.268 0.132 0.067 0.038", "0.964 0.842 0.523 0.212 0.142 0.113 0.062", "0.471 0.175 0.128 0.116", "0.048 0.03"];
const ensProbImpB = ["0.01 0.005 0", "0.01 0.005 0", "0.005 0", "0.029 0.005 0", "0.145 0.005 0", "0.777 0.081 0.019 0.01 0", "0.946 0.072 0.02 0.01 0", "0.994 0.707 0.681 0.146 0.077 0.02 0.01 0", "0.399 0.081 0.02 0.01 0", "0.048 0.026 0.01 0", "0.833 0.081 0.02 0.01 0", "0.087 0.02 0.01 0"];
const ensProbImpO = ["", "0.007", "0.159", "", "0.399", "1 0.995 0.801 0.125 0.048", "0.942 0.812 0.675 0.299 0.094 0.052", "0.751 0.214 0.207 0.087", "0.994 0.951 0.936 0.58 0.554 0.291 0.284 0.214 0.11 0.088", "0.893 0.749 0.226 0.091", "1 0.995 0.464 0.219 0.091 0.029", "1 0.628 0.113 0.077 0.04"];

const swagProbImpG = ["1 0.995 0.954 0.914 0.767 0.058 0.026", "1 0.995 0.99 0.878 0.771 0.454 0.149", "1 0.995 0.958 0.723 0.223 0.012", "1 0.99 0.828 0.754 0.38 0.045", "1 0.99 0.985 0.649 0.577 0.471 0.026", "1 0.949 0.936 0.801 0.741 0.38 0.29 0.154 0.051", "0.964 0.362 0.145 0.128 0.12 0.077 0.048", "0.355 0.077 0.048 0.026", "0.938 0.646 0.572 0.146 0.128 0.051", "0.096", "0.903 0.203", "0.858 0.659 0.341 0.232 0.18 0.149"];
const swagProbImpB = ["0.103 0.1 0.097 0.006 0.002 0", "0.103 0.1 0.097 0.006 0.002 0", "0.103 0.1 0.097 0.026 0.006 0.002 0", "1 0.997 0.103 0.1 0.097 0.006 0.002 0", "0.103 0.1 0.097 0.006 0.002 0", "0.103 0.1 0.097 0.02 0.01 0.006 0.002 0", "0.106 0.103 0.1 0.097 0.02 0.01 0.006 0.002 0", "0.923 0.184 0.103 0.1 0.097 0.01 0.006 0.002 0", "1 0.468 0.229 0.103 0.1 0.097 0.07 0.02 0.01 0.006 0.002 0", "0.152 0.103 0.1 0.097 0.052 0.026 0.01 0.006 0.002 0", "1 0.258 0.133 0.103 0.1 0.097 0.006 0.002 0", "0.132 0.103 0.1 0.097 0.081 0.02 0.01 0.006 0.002 0"];
const swagProbImpO = ["", "", "", "0.016", "0.084 0.019", "0.323 0.041", "0.159 0.036", "0.067 0.036", "", "0.012", "0.333 0.048 0.033", "0.055"];

const svgdProbImpG = ["1 0.995 0.928 0.451 0.432 0.29", "1 0.99 0.985 0.654 0.046", "1 0.981 0.901 0.849 0.258", "0.981 0.962 0.91 0.777 0.529 0.28 0.012", "0.997 0.788 0.719 0.152", "0.316 0.099", "0.11", "0.094 0.058", "0.084", "0.087", "0.058", "0.077"];
const svgdProbImpB = ["0.01 0.005 0", "0.005 0", "0.005 0", "0.005 0", "0.043 0.01 0.005 0", "0.091 0.005 0", "0.094 0.005 0", "0.203 0.125 0.052 0.023 0.005 0", "0.083 0.058 0.005 0", "0.149 0.106 0.041 0.01 0", "0.128 0.005 0", "0.116 0.015 0.01 0.005 0"];
const svgdProbImpO = ["0.046", "", "", "0.077", "0.046", "0.168 0.012", "0.164 0.125 0.058", "0.133 0.101", "0.407 0.359 0.355 0.145 0.133 0.014", "0.133 0.029", "0.229 0.09", "0.968 0.255 0.084 0.058"];

// ---- Defocus ----
const ensLogitsDefG = ["67.5 60.7 58.1 56.1 47.8 45.2 37.4 35.6 34 33 31.1 20.1 18.3 16.6 15.7 13.5 12.6 8.3", "41.3 40.5 37.9 36.3 30.8 29.9 29.1 26.5 21.8 20.9 18.3 16.3 14 9.2 7.6", "31.7 23.2 17.6 14.9 12.3 11 9.7 6.7", "12.3 9.7 8.5 7 -14", "9.7 6.2 2.8", "11.9 7.1 5.4", "14.5 12.5 8.7 7.6", "18.3 16.6 4.2 -2.4", "12.8 8 6.2 2.8", "17.5 6.7", "17.1 11.9", "11.2 10.5 10 3.1"];
const ensLogitsDefB = ["6.6 5.4 4.4 3.5 2.5 1.5 0.5 -0.5 -1.5 -2.5 -3.5 -4.5 -5.5 -6.5 -7.5 -8.5 -9.5 -10.5 -12 -14 -16 -22.7 -24.6 -27.5 -29.8 -44.8 -52.1", "4.8 1 0 -1 -2 -3 -4 -5 -6 -7 -8 -9 -10 -11 -12 -12.8 -14.2 -17.5 -18.9 -20.1 -20.9", "2.8 1.8 0.8 -0.2 -1.2 -2.2 -3.2 -4.2 -5.2 -6.2 -7.2 -8.2 -9.2 -10.2 -11.2 -12 -15.9 -17.3 -27.5", "5.4 4.4 2 1 0 -1 -2 -3 -4 -5 -6 -7 -8 -9 -10 -12.8 -29.1", "4 3 2 1 0 -1 -2 -3 -4 -5 -6 -7 -8 -9 -10 -11.1", "4.8 3.8 2.8 1.8 0.8 -0.2 -1.2 -2.2 -3.2 -4.2 -5.2 -6.2 -7.2 -8.2 -9.2 -10.5 -13.3", "6.9 5.9 4.5 3.5 2.5 1.5 0.5 -0.5 -1.5 -2.5 -3.5 -4.5 -5.5 -6.5 -7.5 -8.5 -9.3 -16.6", "6.2 5.2 4.2 3.2 2.2 1.2 0.2 -0.8 -1.8 -2.8 -3.8 -4.8 -5.9 -15.1", "3.6 2.6 1.6 0.6 -0.4 -1.4 -2.4 -3.4 -4.4 -5.4 -6.7", "11.4 10.5 2.8 1.8 0.8 -0.2 -1.2 -2.2 -3.2 -4.2 -5.5", "10 4.8 3.8 2.8 1.8 0.8 -0.2 -1.2 -2.2 -3.2 -4.2 -5.9", "1.9 0.9 -0.1 -1.1 -2.1 -3.1 -4.1 -5.5"];
const ensLogitsDefO = ["3 -1 -12.5 -18.9 -19.7 -21.5 -25.6 -35.3 -36", "5.7 -2 -15.4 -21.5 -26", "3.6 -8 -12.5 -14.5 -16.8", "-7.6 -11.9", "-2.4 -3.5", "3.1 -4.2 -8.5", "-5.5 -9.3 -13.1", "3.1 -6.7 -7.5", "-7.3 -8.5", "5 -4.2", "-2.4 -9.9", "-2.4 -3"];

const swagLogitsDefG = ["35.6 34.7 28.6 27.8 25.2 20.3 18.2 14.7 13.9 13 6.1", "26.4 23.1 22 17.7 15.6 13 10.4 5.2", "20.5 17.3 16 14.6 12.1 9.2 6.9 4.3", "15.6 13.9 9.2 8.3", "18.2 12.1 9.4", "23.9 21.3 9.4 3.8 3.1", "31.2 21.3 17.7 7.3", "54.1 23.4 18.2 5.7 2.9", "58.8 24.3 20.5 5.2", "68.2 21.3 19.4 6.9", "72.9 23.1 5.7", "78.6 27.2 22.5 5.7"];
const swagLogitsDefB = ["9 8 7 6 5 4 3 2 1 0 -1 -2 -3 -4 -5 -6 -7 -8 -9 -10 -11 -12.1 -13.9 -14.7", "8.7 7.7 3.5 2.5 1.5 0.5 -0.5 -1.5 -2.5 -3.5 -4.5 -5.5 -6.5 -7.5 -8.5 -9.5 -10.5 -12.1 -13.5", "19.4 18.5 5.2 4.2 3.2 2.2 1.2 0.2 -0.8 -1.8 -2.8 -3.8 -4.8 -5.8 -6.8 -7.8 -8.8 -10.4", "3.1 2.1 1.1 0.1 -0.9 -1.9 -2.9 -3.9 -4.9 -5.9 -6.9 -7.9 -8.9 -10.4 -12.5", "6.2 5.2 3.8 2.8 1.8 0.8 -0.2 -1.2 -2.2 -3.2 -4.2 -5.2", "10.4 9.4 2.6 1.6 0.6 -0.4 -1.4 -2.4 -3.4 -4.2 -5.2", "6.1 5.1 2.6 1.6 0.6 -0.4 -1.4 -2.4 -3.4 -4.4 -5.7", "12.1 7.8 3.5 2.5 1.5 0.5 -0.5 -1.5 -2.5 -3.5 -4.3", "22.9 13 6.1 5.1 4.1 3.1 2.1 1.1 0.1 -1", "26.5 11.6 5.2 4.2 3.2 2.2 1.2 0.2 -1", "36.4 11.6 5.2 4.2 3.2 2.2 1.2 0.2 -1", "37.6 12.1 6.9 5.9 3.5 2.5 1.5 0.5 -0.5 -1.7"];
const swagLogitsDefO = ["-17.7", "-10.4 -14.9", "-9 -10.4", "-6.2 -10.4", "-5.2 -8.3 -11.3", "-4.9 -5.7 -16.7", "-3.5 -8.3 -26.4", "-1.7 -6.4 -40.9", "-2.1 -4.7 -8.7 -26", "-2.1 -7.8 -11.4 -29.1", "-2.1 -3.5 -7.8 -22.9", "-2.9 -5.2 -7.8 -33.3"];

const svgdLogitsDefG = ["18.8 18 13.3 11.7 9.9 9.7 8.4 6.1", "20 19.5 13.1 10 9.5 6.9 6", "13.4 7.5 6.1 5.4 5.2 4.3 4", "7.5 6.9 6 3.4 1.3", "5.4 2.9 2.3 1", "3.8 3.5 2 -0.3 -0.5", "2.2 1.9 -3.2", "-0.3 -1 -2.9", "-0.9 -1.3 -2.9", "1 0.4 -1 -4.9", "1.5 0.9 -1.3", "1.5 -0.5 -2"];
const svgdLogitsDefB = ["2.1 -0.3 -1 -2.4 -5.3 -6.5 -6.8", "1.2 -0.8 -1.7 -3.4 -4.5 -4.7 -11.5 -11.8", "2.9 0.9 0.3 -1.1 -1.7 -5.6 -8.2", "1.9 0.8 0.3 -0.3 -1.5 -2 -2.5 -6.2", "-0.5 -0.9 -1.5 -1.9 -2.3 -4.1", "1.4 0.6 -0.5 -1.5 -4.5 -5.3", "1.6 0.4 -1.5 -2 -2.8", "1.4 1 -0.5 -1.5 -3.5", "0.2 -1.8 -2.3 -2.7", "1.6 1.1 -1.3 -2 -2.5 -4.8", "1.8 1.1 0 -0.8 -2.8", "0.8 0.3 -1 -1.7 -2.4"];
const svgdLogitsDefO = ["3.2 1.9 -2.3 -4 -4.9 -7.7 -10.7", "0.9 0.2 -2.3 -2.8 -8.2 -8.6 -14.6", "4.8 4.5 -0.5 -2.3 -2.5 -3.3 -5.8", "1.1 -0.8 -2.9 -4", "0.8 0.2 -0.3 -1.9 -3.7", "1 -2.5 -3.5", "2.4 1.5 -0.3 -5", "2.1 0.9 0.2 -3.2", "3.2 2.3 1.9 -0.3 -4.3", "2.4 1.4 0.8 -0.5", "1.4 0.8 -0.3", "1.9 0.9 0.4"];

const ensProbDefG = ["1 0.995 0.99 0.345 0.201 0.072", "1 0.995 0.967 0.375 0.301 0.175 0.016", "1 0.995 0.964 0.932 0.925 0.862 0.707 0.428 0.201 0.164 0.133 0.099 0.077 0.065", "1 0.99 0.98 0.925 0.906 0.845 0.767 0.619 0.58 0.345 0.186 0.168 0.12 0.094 0.075", "0.993 0.971 0.738 0.71 0.649 0.377 0.358 0.277 0.265 0.219 0.183 0.167 0.128 0.101 0.06", "1 0.903 0.693 0.533 0.441 0.403 0.33 0.323 0.128 0.06", "1 0.917 0.771 0.49 0.412 0.294 0.287 0.09", "0.983 0.968 0.38 0.204 0.174 0.13", "1 0.486 0.272 0.236 0.207 0.186 0.174 0.026", "0.972 0.954 0.519 0.186", "1 0.981 0.812 0.62 0.272 0.203 0.157 0.15", "0.977 0.958 0.545 0.436 0.403 0.312 0.193 0.152 0.14"];
const ensProbDefB = ["0.019 0.01 0.005 0", "0.016 0.01 0.005 0", "0.033 0.02 0.01 0", "0.07 0.026 0.015 0.01 0", "0.181 0.128 0.12 0.112 0.104 0.096 0.088 0.08 0.072 0.064 0.056 0.048 0.04 0.032 0.024 0.016 0.008 0", "0.428 0.375 0.277 0.243 0.177 0.106 0.098 0.09 0.082 0.074 0.066 0.058 0.05 0.042 0.034 0.026 0.018 0.01 0.002", "0.157 0.128 0.12 0.112 0.104 0.096 0.088 0.08 0.072 0.064 0.056 0.048 0.04 0.032 0.024 0.016 0.008 0", "0.135 0.127 0.119 0.111 0.103 0.095 0.087 0.079 0.071 0.063 0.055 0.047 0.039 0.031 0.023 0.015 0.007", "0.13 0.122 0.114 0.106 0.098 0.09 0.082 0.074 0.066 0.058 0.05 0.042 0.034 0.026 0.018 0.01 0.002", "0.174 0.145 0.137 0.129 0.121 0.113 0.105 0.097 0.089 0.081 0.073 0.065 0.057 0.049 0.041 0.033 0.025 0.017 0.009 0.001", "0.175 0.14 0.132 0.124 0.116 0.108 0.1 0.092 0.084 0.076 0.068 0.06 0.052 0.044 0.036 0.028 0.02 0.012 0.004", "0.14 0.132 0.124 0.116 0.108 0.1 0.092 0.084 0.076 0.068 0.06 0.052 0.044 0.036 0.028 0.02 0.012 0.004"];
const ensProbDefO = ["0.012", "", "", "", "0.091", "0.113", "0.193", "0.241 0.159", "0.043", "0.323 0.041", "0.091", "0.043"];

const swagProbDefG = ["1 0.995 0.958 0.906 0.884 0.555", "1 0.995 0.99 0.851 0.625 0.446 0.046 0.02", "1 0.99 0.985 0.732 0.568 0.449 0.178 0.133 0.115 0.026", "1 0.99 0.972 0.917 0.91 0.894 0.799 0.564 0.472 0.466 0.403 0.188 0.091 0.065", "1 0.981 0.849 0.636 0.577 0.533 0.333 0.246 0.1 0.04", "1 0.914 0.357 0.338 0.306 0.268 0.243 0.15 0.12", "0.997 0.899 0.725 0.464 0.446 0.272 0.236 0.222 0.193 0.186 0.139", "1 0.842 0.759 0.49 0.407 0.246 0.207 0.171 0.149", "1 0.728 0.659 0.545 0.49 0.301 0.268 0.2 0.161", "1 0.871 0.823 0.584 0.442 0.323 0.262 0.203", "1 0.89 0.877 0.703 0.642 0.262 0.255 0.241 0.203", "1 0.958 0.823 0.593 0.472 0.428 0.255 0.209 0.197 0.162"];
const swagProbDefB = ["0.103 0.1 0.097 0.006 0.002 0", "0.793 0.103 0.1 0.097 0.01 0.005 0", "0.954 0.948 0.103 0.1 0.097 0.02 0.01 0.005 0", "0.149 0.1 0.092 0.084 0.076 0.068 0.06 0.052 0.044 0.036 0.028 0.02 0.012 0.004", "0.407 0.128 0.12 0.112 0.104 0.096 0.088 0.08 0.072 0.064 0.056 0.048 0.04 0.032 0.024 0.016 0.008 0", "0.128 0.12 0.112 0.104 0.096 0.088 0.08 0.072 0.064 0.056 0.048 0.04 0.032 0.024 0.016 0.008 0", "0.099 0.092 0.085 0.078 0.07 0.062 0.054 0.046 0.038 0.03 0.022 0.014 0.006 0", "0.157 0.12 0.112 0.104 0.096 0.088 0.08 0.072 0.064 0.056 0.048 0.04 0.032 0.024 0.016 0.008 0.002", "0.135 0.127 0.119 0.111 0.103 0.095 0.087 0.079 0.071 0.063 0.055 0.047 0.039 0.031 0.023 0.015 0.007 0", "0.171 0.163 0.155 0.147 0.139 0.131 0.123 0.115 0.107 0.099 0.091 0.083 0.075 0.067 0.059 0.051 0.043 0.035 0.027 0.019 0.011 0.003", "0.149 0.141 0.133 0.125 0.117 0.109 0.101 0.093 0.085 0.077 0.069 0.061 0.053 0.045 0.037 0.029 0.021 0.013 0.005", "0.142 0.134 0.126 0.118 0.11 0.102 0.094 0.086 0.078 0.07 0.062 0.054 0.046 0.038 0.03 0.022 0.014 0.006"];
const swagProbDefO = ["", "0.019", "0.055", "", "0.093 0.048", "0.171", "0.212 0.08 0.07", "0.178 0.17 0.06", "0.084 0.065", "0.091 0.019", "0.062 0.048", "0.301 0.154 0.058"];

const svgdProbDefG = ["1 0.995 0.964 0.951 0.767 0.333 0.316 0.125", "1 0.995 0.972 0.851 0.384 0.026 0.02", "0.925 0.851 0.738 0.381 0.323 0.125 0.026", "0.743 0.736 0.516 0.188", "0.377 0.236 0.219 0.094 0.058", "0.359 0.186 0.164 0.026", "0.29 0.229 0.081", "", "0.041", "0.055", "0.135 0.043", "0.212 0.167 0.084"];
const svgdProbDefB = ["0.005 0", "0.01 0.005 0", "0.015 0.01 0.005 0", "0.051 0.019 0.01 0", "0.026 0.01 0", "0.207 0.094 0.019 0.01 0", "0.094 0.048 0.01 0", "0.033 0.01 0", "0.015 0.01 0", "0.072 0.015 0.01 0", "0.251 0.142 0.055 0.01 0.005 0", "0.077 0.03 0.02 0.01 0"];
const svgdProbDefO = ["", "", "", "0.03", "0.048 0.041", "0.157 0.145", "0.159 0.026 0.02", "0.149 0.072 0.019", "0.197 0.149 0.019", "0.101 0.091 0.033", "0.171 0.099 0.09 0.026", "0.188 0.11 0.045 0.04"];

// ---- panel table (row-major, three per row) ----
const panels = [
  { title: "Ensemble Logits - Rotated", g: ensLogitsRotG, b: ensLogitsRotB, o: ensLogitsRotO, ticks: [-20, 0, 20, 40, 60] },
  { title: "SWAG Logits - Rotated", g: swagLogitsRotG, b: swagLogitsRotB, o: swagLogitsRotO, ticks: [-20, -10, 0, 10, 20, 30, 40] },
  { title: "SVGD Logits - Rotated", g: svgdLogitsRotG, b: svgdLogitsRotB, o: svgdLogitsRotO, ticks: [-20, -10, 0, 10, 20, 30] },
  { title: "Ensemble Prob - Rotated", g: ensProbRotG, b: ensProbRotB, o: ensProbRotO, ticks: probTicks },
  { title: "SWAG Prob - Rotated", g: swagProbRotG, b: swagProbRotB, o: swagProbRotO, ticks: probTicks },
  { title: "SVGD Prob - Rotated", g: svgdProbRotG, b: svgdProbRotB, o: svgdProbRotO, ticks: probTicks },
  { title: "Ensemble Logits - Gaussian", g: ensLogitsGauG, b: ensLogitsGauB, o: ensLogitsGauO, ticks: [-75, -50, -25, 0, 25, 50, 75, 100] },
  { title: "SWAG Logits - Gaussian", g: swagLogitsGauG, b: swagLogitsGauB, o: swagLogitsGauO, ticks: [-60, -40, -20, 0, 20, 40, 60, 80, 100] },
  { title: "SVGD Logits - Gaussian", g: svgdLogitsGauG, b: svgdLogitsGauB, o: svgdLogitsGauO, ticks: [-20, -10, 0, 10, 20, 30] },
  { title: "Ensemble Prob - Gaussian", g: ensProbGauG, b: ensProbGauB, o: ensProbGauO, ticks: probTicks },
  { title: "SWAG Prob - Gaussian", g: swagProbGauG, b: swagProbGauB, o: swagProbGauO, ticks: probTicks },
  { title: "SVGD Prob - Gaussian", g: svgdProbGauG, b: svgdProbGauB, o: svgdProbGauO, ticks: probTicks },
  { title: "Ensemble Logits - Impulse", g: ensLogitsImpG, b: ensLogitsImpB, o: ensLogitsImpO, ticks: [-75, -50, -25, 0, 25, 50, 75, 100] },
  { title: "SWAG Logits - Impulse", g: swagLogitsImpG, b: swagLogitsImpB, o: swagLogitsImpO, ticks: [-20, 0, 20, 40, 60, 80] },
  { title: "SVGD Logits - Impulse", g: svgdLogitsImpG, b: svgdLogitsImpB, o: svgdLogitsImpO, ticks: [-10, 0, 10, 20, 30] },
  { title: "Ensemble Prob - Impulse", g: ensProbImpG, b: ensProbImpB, o: ensProbImpO, ticks: probTicks },
  { title: "SWAG Prob - Impulse", g: swagProbImpG, b: swagProbImpB, o: swagProbImpO, ticks: probTicks },
  { title: "SVGD Prob - Impulse", g: svgdProbImpG, b: svgdProbImpB, o: svgdProbImpO, ticks: probTicks },
  { title: "Ensemble Logits - Defocus", g: ensLogitsDefG, b: ensLogitsDefB, o: ensLogitsDefO, ticks: [-40, -20, 0, 20, 40, 60] },
  { title: "SWAG Logits - Defocus", g: swagLogitsDefG, b: swagLogitsDefB, o: swagLogitsDefO, ticks: [-40, -20, 0, 20, 40, 60, 80] },
  { title: "SVGD Logits - Defocus", g: svgdLogitsDefG, b: svgdLogitsDefB, o: svgdLogitsDefO, ticks: [-15, -10, -5, 0, 5, 10, 15, 20] },
  { title: "Ensemble Prob - Defocus", g: ensProbDefG, b: ensProbDefB, o: ensProbDefO, ticks: probTicks },
  { title: "SWAG Prob - Defocus", g: swagProbDefG, b: swagProbDefB, o: swagProbDefO, ticks: probTicks },
  { title: "SVGD Prob - Defocus", g: svgdProbDefG, b: svgdProbDefB, o: svgdProbDefO, ticks: probTicks },
];

// layout (px)
const COL_X = [68, 628, 1188];
const ROW_Y0 = 122;
const ROW_STEP = 404;
const AX_W = 431;
const AX_H = 252;
const Y_AXIS_W = 60;
const PAD_TOP = 12;
const X_DOMAIN: [number, number] = [-0.4, 13.45];

type Pt = { x: number; y: number };

function toPoints(col: string[]): Pt[] {
  const out: Pt[] = [];
  col.forEach((s, i) => {
    s.split(" ").filter(Boolean).forEach((v) => out.push({ x: categories[i], y: Number(v) }));
  });
  return out;
}

// matplotlib-style autoscale: data extent plus 5% margin
function yDomain(pts: Pt[]): [number, number] {
  const ys = pts.map((p) => p.y);
  const lo = Math.min(...ys);
  const hi = Math.max(...ys);
  const pad = (hi - lo) * 0.05;
  return [lo - pad, hi + pad];
}

const fmtTick = (v: number, prob: boolean) => {
  const s = prob ? v.toFixed(1) : String(Math.abs(v));
  return !prob && v < 0 ? "\u2212" + s : s;
};

const dash = (color: string) => (p: any) =>
  <rect x={p.cx - 12.4} y={p.cy - 1.2} width={24.8} height={2.4} fill={color} fillOpacity={0.72} />;

const tickStyle = { fontSize: 13.9, fill: "#000", fontFamily: FONT };

function Panel({ p, idx }: { p: (typeof panels)[number]; idx: number }) {
  const row = Math.floor(idx / 3);
  const col = idx % 3;
  const left = COL_X[col];
  const top = ROW_Y0 + row * ROW_STEP;
  const prob = p.title.includes("Prob");
  const g = toPoints(p.g);
  const b = toPoints(p.b);
  const o = toPoints(p.o);
  const domain = yDomain([...g, ...b, ...o]);

  return (
    <>
      <div
        style={{
          position: "absolute", left, top: top - 22, width: AX_W, textAlign: "center",
          fontSize: 16.7, lineHeight: "16.7px", whiteSpace: "nowrap",
        }}
      >
        {p.title}
      </div>
      {col === 0 && (
        <div
          style={{
            position: "absolute", left: 23, top: top + AX_H / 2, fontSize: 13.9, lineHeight: "14px",
            whiteSpace: "nowrap", transform: "translate(-50%, -50%) rotate(-90deg)",
          }}
        >
          {prob ? "Probabilities" : "Logits"}
        </div>
      )}
      <div style={{ position: "absolute", left: left - Y_AXIS_W, top: top - PAD_TOP }}>
        <ScatterChart
          width={AX_W + Y_AXIS_W + 1}
          height={AX_H + PAD_TOP + 40}
          margin={{ top: PAD_TOP, right: 1, bottom: 0, left: 0 }}
        >
          <XAxis
            type="number" dataKey="x" domain={X_DOMAIN} ticks={categories} interval={0}
            allowDataOverflow axisLine={false} tickLine={{ stroke: "#000" }} tickSize={5}
            tickMargin={10} height={40} tick={tickStyle}
          />
          <YAxis
            type="number" dataKey="y" domain={domain} ticks={p.ticks} interval={0}
            allowDataOverflow axisLine={false} tickLine={{ stroke: "#000" }} tickSize={5}
            tickMargin={5} width={Y_AXIS_W} tick={tickStyle} tickFormatter={(v: number) => fmtTick(v, prob)}
          />
          <Scatter data={g} shape={dash(GREEN)} isAnimationActive={false} />
          <Scatter data={b} shape={dash(BLUE)} isAnimationActive={false} />
          <Scatter data={o} shape={dash(ORANGE)} isAnimationActive={false} />
        </ScatterChart>
      </div>
      <div
        style={{
          position: "absolute", left, top, width: AX_W, height: AX_H,
          border: "1px solid #000", boxSizing: "border-box", pointerEvents: "none",
        }}
      />
    </>
  );
}

function LegendBox() {
  const colors = [GREEN, BLUE, ORANGE];
  return (
    <svg style={{ position: "absolute", left: 715, top: 11 }} width={209} height={25}>
      <rect x={0.5} y={0.5} width={207} height={23} rx={3} fill="#fff" stroke="#d0d0d0" />
      {legendLabels.map((lab, i) => (
        <g key={lab}>
          <rect x={17 + i * 75.5} y={5} width={2} height={14} fill={colors[i]} fillOpacity={0.85} />
          <text x={45 + i * 75} y={12} dominantBaseline="central" fontSize={13.9} fontFamily={FONT} fill="#000">
            {lab}
          </text>
        </g>
      ))}
    </svg>
  );
}

export default function App() {
  return (
    <div
      style={{
        position: "absolute", left: 0, top: 0, width: 1628, height: 3242,
        background: "#fff", fontFamily: FONT, color: "#000", overflow: "hidden",
      }}
    >
      <LegendBox />
      {panels.map((p, i) => (
        <Panel key={p.title} p={p} idx={i} />
      ))}
    </div>
  );
}
